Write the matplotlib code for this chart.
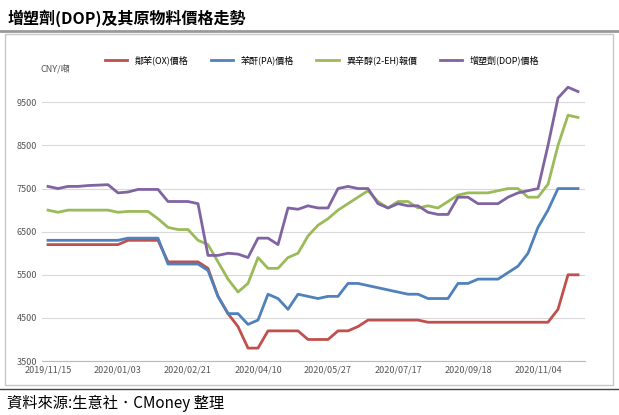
import matplotlib
matplotlib.use("Agg")
import matplotlib.pyplot as plt
from matplotlib.patches import Rectangle
from matplotlib.lines import Line2D

plt.rcParams['font.family'] = ['Noto Sans CJK TC', 'DejaVu Sans']

ox = [6200]*8 + [6300]*4 + [5800]*4 + [5650, 5000, 4600, 4300, 3800, 3800, 4200, 4200, 4200, 4200] \
    + [4000]*3 + [4200]*2 + [4300] + [4450]*6 + [4400]*13 + [4700, 5500, 5500]
pa = [6300]*8 + [6350]*4 + [5750]*4 + [5600, 5000, 4600, 4600, 4350, 4450, 5050, 4950, 4700, 5050, 5000, 4950, 5000, 5000] \
    + [5300, 5300, 5250, 5200, 5150, 5100, 5050, 5050] + [4950]*3 + [5300]*2 + [5400]*3 \
    + [5550, 5700, 6000, 6600, 7000, 7500, 7500, 7500]
eh = [7000, 6950, 7000, 7000, 7000, 7000, 7000, 6950, 6970, 6970, 6970,
      6800, 6600, 6550, 6550, 6300, 6200, 5800, 5400, 5100, 5300, 5900, 5650, 5650, 5900,
      6000, 6400, 6650, 6800, 7000, 7150, 7300, 7450, 7200, 7050, 7200, 7200, 7050,
      7100, 7050, 7200, 7350, 7400, 7400, 7400, 7450, 7500, 7500, 7300, 7300, 7600,
      8500, 9200, 9150]
dop = [7550, 7500, 7550, 7550, 7570, 7580, 7590, 7400, 7420, 7480, 7480, 7480,
       7200, 7200, 7200, 7150, 5950, 5950, 6000, 5980, 5900, 6350, 6350, 6200,
       7050, 7020, 7100, 7050, 7050, 7500, 7550, 7500, 7500, 7150, 7050, 7150, 7100, 7100,
       6950, 6900, 6900, 7300, 7300, 7150, 7150, 7150, 7300, 7400, 7450, 7500, 8500,
       9600, 9850, 9750]
tick_labels = ["2019/11/15", "2020/01/03", "2020/02/21", "2020/04/10",
               "2020/05/27", "2020/07/17", "2020/09/18", "2020/11/04"]
names = ["鄰苯(OX)價格", "苯酐(PA)價格", "異辛醇(2-EH)報價", "增塑劑(DOP)價格"]
colors = ["#c0504d", "#4f81bd", "#9bbb59", "#8064a2"]

fig = plt.figure(figsize=(6.19, 4.15), dpi=100)
fig.text(0.012, 0.955, "增塑劑(DOP)及其原物料價格走勢", fontsize=11.5, fontweight="bold", va="center")
fig.add_artist(Line2D([0, 1], [0.925, 0.925], color="#999999", lw=2))
fig.add_artist(Rectangle((0.008, 0.072), 0.982, 0.845, fill=False, ec="#c8c8c8", lw=1))
fig.add_artist(Line2D([0, 1], [0.063, 0.063], color="#444444", lw=1))
fig.text(0.012, 0.028, "資料來源:生意社．CMoney 整理", fontsize=11, va="center")

ax = fig.add_axes([42/619, 0.13, 543/619, 0.665])
x = list(range(len(dop)))
for vals, c, n in zip([ox, pa, eh, dop], colors, names):
    ax.plot(x, vals, color=c, lw=2, label=n)
ax.set_xlim(-0.6, 53.7)
ax.set_ylim(3500, 9900)
ax.set_yticks(range(3500, 10000, 1000))
ax.set_xticks(range(0, 50, 7))
ax.set_xticklabels(tick_labels)
ax.tick_params(labelsize=6.5, length=0, colors="#555555")
ax.grid(axis="y", color="#d9d9d9", lw=0.8)
ax.set_axisbelow(True)
for s in ["top", "right", "left"]:
    ax.spines[s].set_visible(False)
ax.spines["bottom"].set_color("#bbbbbb")
fig.text(0.065, 0.835, "CNY/噸", fontsize=6.5, color="#555555", va="center")
fig.legend(loc="center", bbox_to_anchor=(0.52, 0.855), ncol=4, frameon=False,
           fontsize=6.5, handlelength=2.5, columnspacing=2.5)

fig.savefig("out.png", dpi=100)
